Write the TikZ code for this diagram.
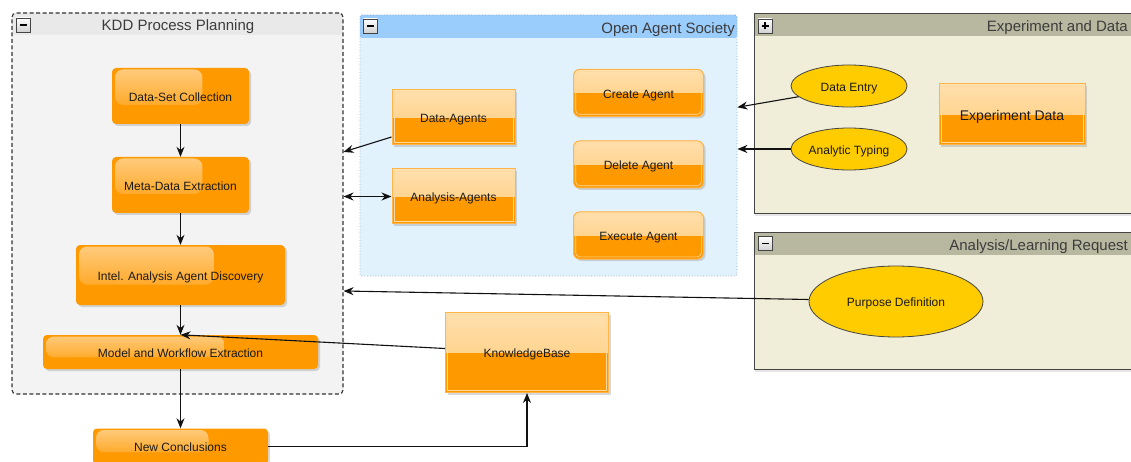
\documentclass[tikz,border=0pt]{standalone}
\usepackage{fontspec}
\setmainfont{Liberation Sans}
\usetikzlibrary{arrows.meta,shadows,calc,shapes.geometric}

\definecolor{orng}{HTML}{FF9900}
\definecolor{orngedge}{HTML}{FFB54A}
\definecolor{orngtop}{HTML}{FFE0AE}
\definecolor{orngmid}{HTML}{FFC872}
\definecolor{orngline}{HTML}{FFD9A0}
\definecolor{ellfill}{HTML}{FFCC00}
\definecolor{kddhead}{HTML}{E9E9E9}
\definecolor{kddbody}{HTML}{F3F3F3}
\definecolor{kddedge}{HTML}{333333}
\definecolor{oashead}{HTML}{9ACCFC}
\definecolor{oasbody}{HTML}{E2F2FD}
\definecolor{oasedge}{HTML}{98A8C4}
\definecolor{exphead}{HTML}{B8B8A0}
\definecolor{expbody}{HTML}{F0EED9}
\definecolor{expedge}{HTML}{444444}
\definecolor{txt}{HTML}{1A1A1A}
\definecolor{wire}{HTML}{111111}

\tikzset{
  lbl/.style={font=\fontsize{12}{14}\selectfont, text=txt, inner sep=0pt,
    text height=10.4pt, text depth=0pt},
  softshadow/.style={drop shadow={opacity=0.3, shadow xshift=2pt, shadow yshift=-2pt}},
  % glossy rounded process box
  glossy/.style={lbl, fill=orng, draw=none, rounded corners=4pt, softshadow,
    path picture={
      \shade[top color=orng!50!white, bottom color=orng, rounded corners=8pt]
        ([shift={(3pt,-1.5pt)}]path picture bounding box.north west) rectangle
        ($(path picture bounding box.north west)!0.66!(path picture bounding box.south east)$);
    }},
  % two-tone box (light upper half, orange lower half)
  twotone/.style={lbl, fill=orng, draw=orngedge, line width=1pt, softshadow,
    path picture={
      \fill[sharp corners, top color=orngtop, bottom color=orngmid]
        (path picture bounding box.north west) rectangle (path picture bounding box.east);
      \draw[orngline, line width=0.6pt, rounded corners=#1]
        ([shift={(2.2pt,-2.2pt)}]path picture bounding box.north west) rectangle
        ([shift={(-2.2pt,2.2pt)}]path picture bounding box.south east);
    }},
  twotone/.default=0pt,
  usecase/.style={lbl, ellipse, fill=ellfill, draw=expedge, line width=0.8pt},
  grouptitle/.style={font=\fontsize{15}{18}\selectfont, text=txt!85!white, inner sep=0pt,
    text height=10.7pt, text depth=0pt},
  iconbox/.style={draw=expedge, line width=0.6pt, top color=white, bottom color=black!18,
    minimum width=14pt, minimum height=14pt, inner sep=0pt},
  iconbar/.style={line width=1.8pt, black},
  flowtip/.tip={Stealth[length=10pt,width=8pt]},
  flow/.style={draw=wire, line width=1.1pt, -flowtip},
  header/.style 2 args={path picture={
      \fill[#1] (path picture bounding box.north west) rectangle
        ([yshift=-#2]path picture bounding box.north east);}},
}

\begin{document}
\begin{tikzpicture}[x=1pt,y=-1pt]
\useasboundingbox (0,0) rectangle (1131,462);
\clip (0,0) rectangle (1131,462);

% ---------- swimlane groups ----------
\node[draw=kddedge, dashed, dash pattern=on 4pt off 2.5pt, line width=1.1pt,
      fill=kddbody, rounded corners=4pt, minimum width=331pt, minimum height=381pt,
      header={kddhead}{22pt}] (kdd) at (177.5,203.5) {};
\node[draw=oasedge, dotted, line width=0.8pt, fill=oasbody, rounded corners=2pt,
      minimum width=377pt, minimum height=261pt, header={oashead}{23pt}] (oas) at (548.5,145.5) {};
\node[draw=expedge, line width=0.9pt, fill=expbody,
      drop shadow={opacity=0.2, shadow xshift=1pt, shadow yshift=-3pt},
      minimum width=391pt, minimum height=200pt, header={exphead}{23pt}] (exp) at (949.5,113) {};
\node[draw=expedge, line width=0.9pt, fill=expbody,
      drop shadow={opacity=0.2, shadow xshift=1pt, shadow yshift=-3pt},
      minimum width=391pt, minimum height=137pt, header={exphead}{23pt}] (alr) at (949.5,300.5) {};

% group titles
\node[grouptitle] (kddtitle) at (178,25.5) {KDD Process Planning};
\node[grouptitle, anchor=east] (oastitle) at (735,28) {Open Agent Society};
\node[grouptitle, anchor=east] (exptitle) at (1128,26.2) {Experiment and Data};
\node[grouptitle, anchor=east] (alrtitle) at (1128,245) {Analysis/Learning Request};

% collapse / expand buttons
\node[iconbox] (kddicon) at (23,25) {};
\draw[iconbar] ([xshift=-3.5pt]kddicon.center) -- ([xshift=3.5pt]kddicon.center);
\node[iconbox] (oasicon) at (370.5,26) {};
\draw[iconbar] ([xshift=-3.5pt]oasicon.center) -- ([xshift=3.5pt]oasicon.center);
\node[iconbox] (expicon) at (765,26) {};
\draw[iconbar] ([xshift=-3.5pt]expicon.center) -- ([xshift=3.5pt]expicon.center);
\draw[iconbar] ([yshift=-3.5pt]expicon.center) -- ([yshift=3.5pt]expicon.center);
\node[iconbox] (alricon) at (765,243.5) {};
\draw[iconbar] ([xshift=-3.5pt]alricon.center) -- ([xshift=3.5pt]alricon.center);

% ---------- KDD process steps ----------
\node[glossy, minimum width=137pt, minimum height=56pt] (dsc) at (180.5,96) {Data-Set Collection};
\node[glossy, minimum width=137pt, minimum height=56pt] (mde) at (180.5,185) {Meta-Data Extraction};
\node[glossy, minimum width=209pt, minimum height=60pt] (iaad) at (180.5,275) {Intel. Analysis Agent Discovery};
\node[glossy, minimum width=275pt, minimum height=34pt] (mwe) at (180.5,352) {Model and Workflow Extraction};
\node[glossy, minimum width=175pt, minimum height=36pt] (nc) at (180.5,446.5) {New Conclusions};

% ---------- agents ----------
\node[twotone, minimum width=123pt, minimum height=55pt] (da) at (453.5,117.5) {Data-Agents};
\node[twotone, minimum width=123pt, minimum height=55pt] (aa) at (453.5,196.5) {Analysis-Agents};
\node[twotone=4pt, rounded corners=6pt, minimum width=130pt, minimum height=47pt] (ca) at (638.5,93) {Create Agent};
\node[twotone=4pt, rounded corners=6pt, minimum width=130pt, minimum height=47pt] (dl) at (638.5,164.5) {Delete Agent};
\node[twotone=4pt, rounded corners=6pt, minimum width=130pt, minimum height=47pt] (ex) at (638.5,235.5) {Execute Agent};

% ---------- knowledge base and experiment data ----------
\node[twotone, minimum width=163pt, minimum height=80pt] (kb) at (527,352.5) {KnowledgeBase};
\node[twotone, font=\fontsize{14}{16}\selectfont, text height=12pt,
      minimum width=146pt, minimum height=61pt] (ed) at (1012,114.5) {Experiment Data};

% ---------- use cases ----------
\node[usecase, minimum width=116pt, minimum height=42pt] (de) at (849,86) {Data Entry};
\node[usecase, minimum width=116pt, minimum height=42pt] (at) at (849,149) {Analytic Typing};
\node[usecase, minimum width=174pt, minimum height=71pt] (pd) at (896,301.5) {Purpose Definition};

% ---------- connectors ----------
\draw[flow] (dsc) -- (mde);
\draw[flow] (mde) -- (iaad);
\draw[flow] (iaad) -- (mwe);
\draw[flow] (mwe) -- (nc);
\draw[flow] (nc.east) -| (kb.south);
\draw[flow] ([yshift=4pt]kb.west) -- (mwe.north);
\draw[flow] ([yshift=-19.5pt]da.west) -- ($(kdd.north east)!0.365!(kdd.south east)$);
\draw[flow, flowtip-flowtip] (kdd.east |- aa.west) -- (aa.west);
\draw[flow] (de.192) -- ($(oas.north east)!0.354!(oas.south east)$);
\draw[flow] (at.west) -- (oas.east |- at.west);
\draw[flow] ([yshift=2pt]pd.west) -- ($(kdd.north east)!0.729!(kdd.south east)$);
\end{tikzpicture}
\end{document}
